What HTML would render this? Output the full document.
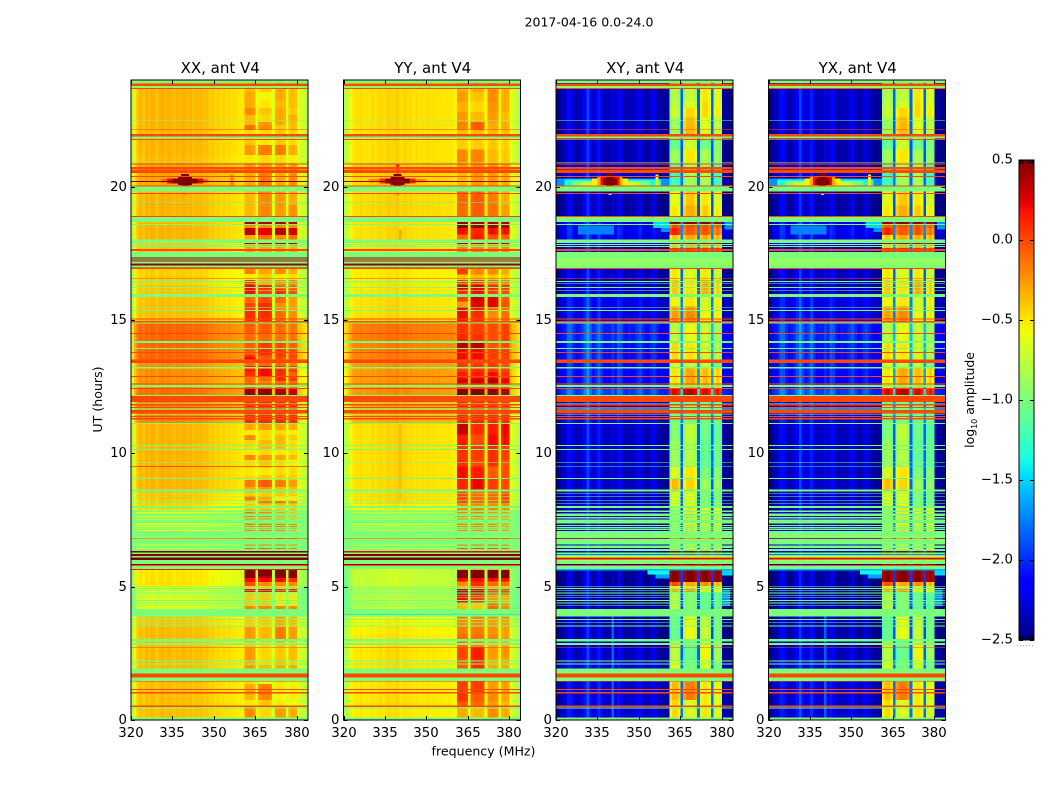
<!DOCTYPE html>
<html>
<head>
<meta charset="utf-8">
<title>2017-04-16 0.0-24.0</title>
<style>
html,body{margin:0;padding:0;background:#fff;width:1050px;height:800px;overflow:hidden}
svg{display:block}
text{font-family:"DejaVu Sans","Liberation Sans",sans-serif;fill:#000}
</style>
</head>
<body>
<svg id="fig" xmlns="http://www.w3.org/2000/svg" width="1050" height="800" viewBox="0 0 1050 800">
<rect x="0" y="0" width="1050" height="800" fill="#fff"/>
<text x="589" y="26.5" font-size="12.5" text-anchor="middle">2017-04-16 0.0-24.0</text>
<text x="0" y="0" font-size="12.6" text-anchor="middle" transform="translate(102,399.5) rotate(-90)">UT (hours)</text>
<text x="483.5" y="755.5" font-size="12.6" text-anchor="middle">frequency (MHz)</text>
<text x="0" y="0" font-size="12.4" text-anchor="middle" transform="translate(974,400) rotate(-90)">log<tspan font-size="8" dy="3">10</tspan><tspan dy="-3"> amplitude</tspan></text>
</svg>
<script>
// ---- axis ticks ----
const freqTicks = [320, 335, 350, 365, 380];
const utTicks = [0, 5, 10, 15, 20];
const colorbarTicks = [0.5, 0.0, -0.5, -1.0, -1.5, -2.0, -2.5];
const panelTitles = ["XX, ant V4", "YY, ant V4", "XY, ant V4", "YX, ant V4"];

// ---- spectral baseline, log10 amplitude per 1 MHz channel, 320..383 MHz ----
const profileXX = [-.75,-.54,-.38,-.34,-.39,-.32,-.37,-.32,-.35,-.39,-.33,-.31,-.36,-.32,-.34,-.38,-.33,-.36,-.32,-.34,-.37,-.34,-.38,-.35,-.37,-.35,-.4,-.37,-.42,-.4,-.45,-.42,-.46,-.44,-.47,-.45,-.48,-.47,-.5,-.5,-.52,
 0,0,0,-.04,-.62,-.04,0,0,0,-.04,-.62,-.02,0,0,-.04,-.62,-.03,0,-.03,-.64,-.66,-.72,-.76];
const profileYY = [-.8,-.72,-.6,-.52,-.48,-.5,-.47,-.52,-.48,-.5,-.46,-.5,-.47,-.44,-.48,-.45,-.43,-.46,-.44,-.42,-.5,-.46,-.44,-.48,-.46,-.5,-.47,-.5,-.48,-.5,-.47,-.5,-.48,-.5,-.49,-.5,-.51,-.5,-.5,-.52,-.54,
 0,0,0,-.04,-.56,-.03,0,0,0,-.04,-.56,-.02,0,0,-.04,-.56,-.03,0,-.03,-.6,-.68,-.74,-.8];
const profileCross = [-2.48,-2.42,-2.36,-2.3,-2.1,-2.12,-2.3,-2.38,-2.34,-2.26,-2.12,-1.92,-2.16,-2.32,-2.22,-2.05,-2.24,-2.36,-2.32,-2.34,-2.22,-2.32,-2.12,-2.18,-2.36,-2.4,-2.32,-2.36,-2.34,-2.24,-2.15,-2.3,-2.4,-2.38,-2.26,-2.2,-2.32,-2.42,-2.42,-2.44,-2.4,
 -.14,0,0,-.1,-1.85,-.12,0,0,0,-.12,-1.85,-.12,0,0,-.12,-1.85,-.12,0,-.14,-2.4,-2.44,-2.46,-2.48];

// ---- flagged integrations common to all four products: [UT top, UT bottom, value] ----
const flagRows = [
[24,23.89,-1],[23.87,23.78,0],[23.78,23.7,-.95],[23.7,23.66,0],[22.49,22.46,-1],[22.15,22.13,0],[21.98,21.88,0],[21.88,21.8,-1],[21.78,21.75,0],[20.91,20.89,-1],
[20.87,20.83,0],[20.74,20.64,0],[20.63,20.51,0],[20.4,20.36,0],[20.04,20.01,0],[20.01,19.82,-1],[19.76,19.73,0],[18.9,18.86,0],[18.86,18.68,-1],[18.6,18.58,-1],
[18.02,17.89,-1],[17.85,17.81,-1],[17.78,17.74,-1],[17.66,17.59,0],[17.55,16.95,-1],[16.95,16.91,0],[16.56,16.54,0],[16.46,16.44,-1],[16.39,16.36,-1],[16.24,16.2,-1],
[16.11,16.08,-1],[15.98,15.86,-1],[15.49,15.46,-1],[15.37,15.34,-1],[15.05,15.02,0],[14.96,14.91,0],[14.9,14.88,-1],[14.51,14.48,0],[14.21,14.14,-1],[13.95,13.91,-1],
[13.8,13.76,0],[13.52,13.39,0],[13.23,13.19,-1],[12.9,12.87,0],[12.62,12.59,0],[12.56,12.49,-1],[12.45,12.42,0],[12.18,12.16,-1],[12.15,11.93,0],[11.89,11.86,-1],
[11.85,11.79,0],[11.74,11.7,0],[11.68,11.66,-1],[11.63,11.49,0],[11.48,11.45,-1],[11.4,11.37,0],[11.33,11.27,0],[11.13,11.1,-1],[10.31,10.28,-1],[10.16,10.13,-1],
[9.66,9.64,-1],[9.07,9.05,-1],[8.64,8.57,-1],[8.5,8.48,-1],[8.39,8.36,-1],[8.24,8.22,-1],[8.14,8.11,-1],[8.03,7.95,-1],[7.86,7.8,-1],[7.74,7.65,-1],
[7.61,7.56,-1],[7.52,7.37,-1],[7.31,7.28,-1],[7.23,7.19,-1],[7.16,7.13,-1],[7.09,6.9,-1],[6.9,6.83,-.95],[6.83,6.8,0],[6.79,6.58,-1],[6.54,6.45,-1],
[6.41,6.34,-1],[6.29,6.23,-1],[6.15,6.09,-1],[6,5.85,-1],[5.81,5.79,0],[5.78,5.66,-1],[5.03,5,-1],[4.95,4.93,-1],[4.86,4.84,-1],[4.78,4.76,-1],
[4.69,4.67,-1],[4.6,4.58,-1],[4.5,4.48,-1],[4.4,4.38,-1],[4.3,4.28,-1],[4.16,4.14,-1],[4.13,3.88,-1],[3.78,3.76,-1],[3.66,3.64,-1],[3.54,3.52,-1],
[3.03,2.94,-1],[2.88,2.81,-1],[2.74,2.71,0],[2.23,2.21,-1],[2.11,2.09,-1],[1.94,1.75,-1],[1.75,1.59,0],[1.59,1.46,-1],[1.45,1.43,0],[1.16,1.14,0],
[1.05,.99,0],[.55,.49,0],[.47,.45,-1],[.1,0,-1]
];

// ---- extra rows specific to a product: [UT top, UT bottom, value] ----
const extraRowsXX = [[20.21,20.19,.5],[19.43,19.41,-1.15],[9.53,9.5,.3],[6.34,6.29,.5],[6.23,6.15,.5],[6.09,6,.5],[5.85,5.83,.45],[5.66,5.63,.15],[17.34,17.32,.45],[17.26,17.24,.4],[17.2,17.18,.3],[17.14,17.12,.3],[17.1,17.05,.45],[16.99,16.97,.2]];
const extraRowsYY = [[20.21,20.19,.4],[19.43,19.41,-1.15],[6.34,6.29,.2],[6.23,6.15,.5],[6.09,6,.5],[5.85,5.83,.45],[17.34,17.32,.4],[17.26,17.24,.35],[17.2,17.18,.25],[17.14,17.12,.3],[17.1,17.05,.45],[16.99,16.97,.2],[3.98,3.97,-1.5]];
const extraRowsCross = [[6.21,6.16,-1.4],[6.16,6.12,-.8],[6.12,6.07,-.25],[6.07,6.02,.25],[6.02,6,-.8],[5.66,5.6,-1.6],[17.33,17.31,-.82],[17.25,17.23,-.75],[17.16,17.14,-.7],[17.09,17.07,-.8],[9.53,9.5,-1.3]];

// ---- per-product time segments: [UT start of segment (top), low-band offset, block1, block2, block3, block4] ----
const segmentsXX = [
[24,0,-.35,-.42,-.3,-.35],[23.55,0,-.3,-.55,-.3,-.35],[23.25,0,-.3,-.5,-.35,-.35],[22.95,0,-.2,-.4,-.3,-.4],[22.69,0,-.35,-.45,-.3,-.3],[22.43,0,-.35,-.25,-.3,-.35],[22.31,0,-.12,-.2,-.4,-.35],[22.13,0,-.45,-.45,-.4,-.4],
[21.75,0,-.4,-.5,-.4,-.45],[21.56,0,-.25,-.15,-.15,-.3],[21.19,-.02,-.5,-.45,-.45,-.5],[20.89,.08,-.25,-.25,-.25,-.25],[20.51,.05,-.3,-.15,-.3,-.2],[19.82,0,-.35,-.2,-.25,-.3],[19.31,0,-.35,-.2,-.25,-.2],
[18.68,0,.45,.4,.4,.4],[18.56,0,-.2,-.2,-.2,-.2],[18.45,0,.35,.25,.35,.3],[18.19,0,-.3,-.1,-.2,-.1],[17.89,-.05,.4,.4,.4,.4],[17.85,-.05,-.3,-.3,-.3,-.3],[17.78,-.05,.4,.4,.4,.4],[17.74,-.05,-.3,-.3,-.3,-.3],
[16.91,-.08,-.15,-.3,-.2,-.3],[16.73,-.08,-.5,-.4,-.5,-.45],[16.5,-.08,.05,-.3,-.2,-.2],[16.31,-.05,.2,.1,-.1,-.1],[16.16,-.05,.2,.05,.1,0],[15.86,-.03,-.1,0,-.1,-.25],[15.64,-.03,.02,.1,-.2,-.25],[15.34,-.03,.1,.1,-.1,-.2],
[14.87,.25,-.05,-.05,-.1,-.12],[14.51,.25,-.1,-.1,-.12,-.12],[14.14,.25,-.05,.05,0,-.05],[13.91,.25,-.05,.1,.05,0],[13.69,.25,.1,0,.05,.05],[13.61,.25,.2,-.05,0,0],[13.39,.12,-.1,-.1,-.1,-.15],[13.28,.12,.15,.2,.1,.05],[13.05,.12,.1,.2,.1,-.05],[12.86,.12,-.1,-.1,.1,.05],[12.71,.12,-.1,-.2,-.1,-.1],[12.42,.22,.45,.45,.4,.35],
[12.15,.15,.1,.1,.1,.1],[11.1,0,-.3,-.25,-.3,-.3],[10.88,0,-.5,-.45,-.45,-.5],[10.69,0,-.2,-.45,-.35,-.4],[10.5,0,-.45,-.35,-.35,-.45],[10.13,0,-.5,-.45,-.5,-.45],[9.94,0,-.2,-.25,-.3,-.35],[9.75,0,-.45,-.4,-.45,-.5],[9.45,0,-.5,-.5,-.45,-.45],[9.19,0,-.45,-.4,-.4,-.4],[9,0,-.15,-.05,-.15,-.25],[8.74,0,-.3,-.25,-.35,-.35],[8.55,-.05,-.4,-.4,-.4,-.4],[8.4,-.05,-.15,-.3,-.5,-.5],[8.21,-.08,-.45,-.15,-.15,-.2],[8.1,-.1,-.4,-.4,-.4,-.4],
[7.88,-.25,-.15,-.2,-.3,-.35],[7.35,-.25,-.15,-.15,-.15,-.2],[7.13,-.25,-.2,-.2,-.2,-.3],[6.9,-.3,-.2,-.2,-.15,-.2],[6.56,-.3,-.1,-.1,-.1,-.15],[6,-.25,-.3,-.3,-.3,-.3],
[5.63,-.15,.5,.5,.5,.5],[5.4,-.15,.5,.35,.45,.45],[5.33,-.15,.2,.2,.2,.1],[5.18,-.15,0,-.2,-.2,-.2],[5.03,-.3,-.4,-.4,-.4,-.4],[4.91,-.3,.2,.2,.1,.1],[4.8,-.3,-.4,-.4,-.5,-.5],[4.28,-.3,-.2,-.2,-.2,-.2],
[3.88,-.05,-.4,-.4,-.3,-.35],[3.56,-.02,-.4,-.45,-.3,-.35],[3.49,-.02,-.25,-.35,-.15,-.25],[2.92,-.02,-.4,-.45,-.4,-.4],[2.7,-.02,-.25,-.45,-.4,-.35],[2.25,-.02,-.3,-.45,-.35,-.4],[2.06,-.02,-.25,-.35,-.3,-.3],[1.46,-.02,-.45,-.55,-.5,-.55],[1.35,-.03,-.3,-.15,-.5,-.5],[.94,-.03,-.35,-.2,-.55,-.5],[.75,-.03,-.5,-.4,-.5,-.55],[.49,-.03,-.2,-.45,-.25,-.3]
];
const segmentsYY = [
[24,0,-.3,-.3,-.2,-.3],[23.55,0,-.25,-.38,-.2,-.3],[23.2,0,-.32,-.45,-.22,-.3],[22.8,0,-.25,-.35,-.25,-.35],[22.43,0,-.18,-.05,-.3,-.3],[22.13,0,-.35,-.35,-.35,-.35],
[21.75,0,-.42,-.42,-.4,-.42],[21.4,0,-.2,-.18,-.35,-.4],[20.89,.07,-.25,-.2,-.2,-.25],[20.51,.04,-.35,-.25,-.25,-.3],[19.82,.02,-.08,-.05,-.15,-.3],[19.3,.02,-.1,-.05,-.12,-.25],
[18.68,0,.48,.42,.4,.4],[18.45,0,.2,.12,.2,.2],[18.2,0,-.1,.15,.0,-.05],[17.89,-.02,.4,.4,.4,.4],[17.82,-.02,-.25,-.25,-.25,-.25],[17.78,-.02,.4,.4,.4,.4],[17.74,-.02,-.2,-.2,-.2,-.2],
[16.91,-.04,.05,-.2,-.2,-.3],[16.7,-.04,-.4,-.35,-.4,-.4],[16.5,-.04,.05,.05,-.1,-.15],[16.31,-.02,.3,.25,.1,.05],[16.16,-.02,.1,.2,.05,0],[15.86,0,.05,.3,.25,-.05],[15.7,0,-.25,.25,.25,0],[15.49,0,.2,.15,-.1,-.1],[15.34,0,.2,.1,-.2,-.1],
[14.87,.32,.08,.05,0,.05],[14.51,.32,.12,.08,0,.05],[14.14,.3,.38,.35,-.02,.02],[13.95,.3,.2,.2,.05,.05],[13.39,.22,.05,.05,.05,0],[13.19,.22,.05,.1,.05,.05],[13.05,.22,.15,.15,.2,.1],[12.8,.22,.28,.3,.38,.25],[12.62,.2,0,0,0,0],[12.42,.24,.5,.5,.45,.4],
[12.15,.15,.1,.1,.1,.1],[11.1,0,.32,.1,.15,.22],[10.7,0,.15,.0,.2,.2],[10.31,0,.08,.05,.1,.05],[9.75,0,.1,.0,.1,0],[9.5,0,.2,.15,-.05,0],[9.07,0,.12,.22,.05,.02],[8.64,0,0,-.1,-.1,0],[8.1,-.05,-.2,-.2,-.2,-.2],
[7.88,-.25,-.2,-.2,-.25,-.25],[7.35,-.25,-.2,-.2,-.2,-.25],[6.9,-.25,-.2,-.15,-.1,-.2],[6.56,-.25,-.05,-.05,-.05,-.05],[6,-.25,-.3,-.3,-.3,-.3],
[5.63,-.25,.5,.5,.5,.5],[5.33,-.25,.2,.2,.2,.2],[5.2,-.25,-.2,.1,-.1,-.1],[5.03,-.3,-.35,-.1,-.35,-.35],[4.93,-.3,.35,.25,0,.05],[4.7,-.3,.2,.05,-.25,-.3],[4.4,-.32,-.35,-.4,-.1,-.2],[4.13,-.3,-.2,-.2,-.2,-.2],
[3.88,-.08,-.2,-.2,-.25,-.25],[3.54,-.05,-.15,-.15,-.22,-.25],[3.2,-.03,-.1,-.12,-.18,-.25],[2.94,-.03,-.1,-.18,-.3,-.3],[2.71,-.02,.02,.15,-.25,-.22],[2.3,-.02,-.05,.1,-.3,-.28],[1.43,-.02,.05,.05,-.25,-.25],[1,-.02,.08,-.05,-.2,-.28],[.7,-.02,-.05,-.1,-.25,-.35],[.49,-.04,-.3,-.35,-.2,-.3]
];
const segmentsCross = [
[24,0,-.8,-.75,-.5,-.6],[23.2,0,-.75,-.65,-.45,-.55],[22.95,0,-.7,-.45,-.45,-.5],[22.6,0,-.85,-.35,-.6,-.7],[21.75,-.03,-1.05,-.7,-1,-.9],[21.4,-.03,-.85,-.5,-.8,-.85],[20.89,.02,-1.1,-.8,-.85,-1.05],[20.5,.02,-1.2,-.85,-.8,-1.15],
[19.82,-.05,-.6,-.4,-.5,-.6],[19.3,-.05,-.5,-.32,-.4,-.5],[18.68,.12,.5,.5,.5,.5],[18.6,.12,0,0,0,0],[18.45,.15,.15,-.05,0,-.1],[18.19,.1,-.4,-.3,-.3,-.3],[17.89,.05,.4,.4,.4,.4],[17.82,.05,-.4,-.3,-.3,-.3],[17.7,.05,.1,.1,.1,.1],
[16.91,0,-.5,-.65,-.5,-.65],[16.5,0,-.4,-.5,-.3,-.4],[15.86,.1,-.55,-.5,-.65,-.5],[15.5,.1,-.25,-.2,-.55,-.5],[14.87,.3,-.75,-.6,-.7,-.8],[14.14,.25,-.45,-.5,-.65,-.75],[13.52,.22,-.65,-.75,-.7,-.95],[13.2,.22,-.5,-.3,-.35,-.4],[12.42,.4,.25,.35,.25,.2],[12.15,.1,-1,-1,-1,-1],
[11.1,0,-.95,-.75,-1,-1.05],[10.5,0,-.85,-.8,-1.05,-1],[9.5,0,-.65,-.5,-.95,-.9],[9.07,0,-.35,-.45,-.85,-.85],[8.55,0,-.65,-.65,-.95,-.95],[7.95,0,-.85,-.5,-.65,-.55],
[6.6,0,-.85,-.65,-.75,-.65],[6.34,0,.5,.5,.5,.5],[6,-.05,.5,.5,.5,.5],[5.6,-.1,.5,.5,.5,.5],[5.18,-.1,0,-.3,-.2,-.3],[5,-.1,-.5,-.5,-.6,-.6],[4.91,-.1,-.3,-.25,-.5,-.5],[4.8,-.1,-.75,-.95,-1.05,-1.05],
[3.88,-.05,-1.05,-.6,-.7,-.95],[2.94,0,-.75,-1.05,-.55,-.8],[2.23,.05,-.6,-1,-.6,-.95],[1.43,.05,-.35,-.15,-.5,-.55],[.75,.05,-.45,-.65,-.5,-.6]
];

// ---- localised features: [UT top, UT bottom, first channel, last channel, value] ----
const patchesXX = [[20.45,20.05,36,36,-.15],[20.28,20.16,11,27,-.1],[20.3,20.12,13,25,.2],[20.3,20.12,15,23,.5],[20.4,20.06,17,21,.5],[20.48,20.02,18,20,.5],[20.7,20.5,19,19,-.15],[19.75,19.68,19,19,-.15]];
const patchesYY = [[20.28,20.16,9,29,-.2],[20.3,20.12,13,25,.1],[20.3,20.12,15,23,.5],[20.4,20.06,17,21,.5],[20.48,20.02,18,20,.5],[20.85,20.5,19,19,.1],[19.75,19.68,19,19,-.15],[18.4,17.9,20,20,-.3],[11.1,8.2,20,20,-.36]];
const patchesCross = [[20.3,20.03,0,40,-1.7],[20.26,20.03,3,37,-1.35],[20.22,20.03,6,33,-1],[20.18,20.03,9,29,-.75],[20.3,20.03,13,25,-.55],[20.4,20.03,15,23,-.3],[20.4,20.06,16,22,.2],[20.3,20.06,17,21,.5],[20.48,20.03,18,20,.5],[20.46,20.03,36,36,-.6],[19.75,19.68,19,19,-1],
[18.55,18.2,8,20,-1.75],[18.68,18.45,35,40,-1.5],[18.45,18.3,38,40,-1.7],[18.68,18.4,61,63,-1.7],[5.66,5.45,33,40,-1.4],[5.45,5.3,36,40,-1.65],[5.66,5.42,60,63,-1.5],[4.9,4.3,60,62,-1.7],[3.88,.1,20,20,-1.85],[17.2,17,11,17,-1.3]];

const channelCount = 64;
const amplitudeMin = -2.5;
const amplitudeMax = 0.5;
const blockChannels = [[41,44],[46,50],[52,55],[57,59]];

const NS = 'http://www.w3.org/2000/svg';
const fig = document.getElementById('fig');
const panelLefts = [131, 343.5, 556, 768.5];
const panelWidth = 177, panelTop = 80, panelHeight = 640;

function interp(stops, t) {
  for (let i = 1; i < stops.length; i++) {
    if (t <= stops[i][0]) {
      const a = stops[i-1], b = stops[i];
      return a[1] + (b[1]-a[1]) * (t-a[0]) / (b[0]-a[0]);
    }
  }
  return stops[stops.length-1][1];
}
const jetR = [[0,0],[.35,0],[.66,1],[.89,1],[1,.5]];
const jetG = [[0,0],[.125,0],[.375,1],[.64,1],[.91,0],[1,0]];
const jetB = [[0,.5],[.11,1],[.34,1],[.65,0],[1,0]];
function jet(value) {
  const t = Math.max(0, Math.min(1, (value-amplitudeMin)/(amplitudeMax-amplitudeMin)));
  return 'rgb(' + Math.round(255*interp(jetR,t)) + ',' + Math.round(255*interp(jetG,t)) + ',' + Math.round(255*interp(jetB,t)) + ')';
}
function yScale(ut) { return panelTop + panelHeight * (1 - ut/24); }
function xScale(left, freq) { return left + panelWidth * (freq-320)/channelCount; }
function blockIndex(ch) {
  for (let i = 0; i < blockChannels.length; i++) {
    if (ch >= blockChannels[i][0] && ch <= blockChannels[i][1]) return i;
  }
  return -1;
}
function addRect(parent, x, y, w, h, fill) {
  const r = document.createElementNS(NS, 'rect');
  r.setAttribute('x', x.toFixed(2));
  r.setAttribute('y', y.toFixed(2));
  r.setAttribute('width', w.toFixed(2));
  r.setAttribute('height', h.toFixed(2));
  r.setAttribute('fill', fill);
  parent.appendChild(r);
  return r;
}
function addLine(parent, x1, y1, x2, y2, name) {
  const l = document.createElementNS(NS, 'line');
  l.setAttribute('x1', x1);
  l.setAttribute('y1', y1);
  l.setAttribute('x2', x2);
  l.setAttribute('y2', y2);
  l.setAttribute('stroke', '#000');
  l.setAttribute('stroke-width', '1');
  
  
  parent.appendChild(l);
}
function addText(parent, x, y, str, anchor, name) {
  const t = document.createElementNS(NS, 'text');
  t.setAttribute('x', x);
  t.setAttribute('y', y);
  t.setAttribute('font-size', '13.3');
  t.setAttribute('text-anchor', anchor);
  
  
  t.textContent = str;
  parent.appendChild(t);
}

function drawPanel(index, profile, segments, extraRows, patches) {
  const left = panelLefts[index];
  const g = document.createElementNS(NS, 'g');
  
  
  fig.appendChild(g);

  const cells = document.createElementNS(NS, 'g');
  cells.setAttribute('shape-rendering', 'crispEdges');
  
  
  g.appendChild(cells);

  const cw = panelWidth / channelCount;
  segments.forEach(function (seg, i) {
    const utTop = seg[0];
    const utBottom = i + 1 < segments.length ? segments[i+1][0] : 0;
    if (utBottom >= utTop) return;
    const y0 = yScale(utTop), y1 = yScale(utBottom);
    for (let ch = 0; ch < channelCount; ch++) {
      const b = blockIndex(ch);
      const v = b >= 0 ? seg[2+b] + profile[ch] : profile[ch] + seg[1];
      const cell = addRect(cells, xScale(left, 320+ch), y0, cw + 0.3, y1 - y0 + 0.3, jet(v));
      
      
    }
  });
  patches.forEach(function (p) {
    const x0 = xScale(left, 320+p[2]), x1 = xScale(left, 320+p[3]+1);
    const patch = addRect(cells, x0, yScale(p[0]), x1-x0, yScale(p[1])-yScale(p[0]), jet(p[4]));
    
    
  });
  flagRows.concat(extraRows).forEach(function (f) {
    const row = addRect(cells, left, yScale(f[0]), panelWidth, Math.max(0.8, yScale(f[1])-yScale(f[0])), jet(f[2]));
    
    
  });

  const frame = document.createElementNS(NS, 'rect');
  frame.setAttribute('x', left);
  frame.setAttribute('y', panelTop);
  frame.setAttribute('width', panelWidth);
  frame.setAttribute('height', panelHeight);
  frame.setAttribute('fill', 'none');
  frame.setAttribute('stroke', '#000');
  frame.setAttribute('stroke-width', '1');
  
  
  g.appendChild(frame);

  freqTicks.forEach(function (f) {
    const x = Math.round(xScale(left, f)) + 0.5;
    addLine(g, x, panelTop + panelHeight, x, panelTop + panelHeight - 4, 'x-tick');
    addLine(g, x, panelTop, x, panelTop + 4, 'x-tick-top');
    addText(g, x - 0.5, panelTop + panelHeight + 17, String(f), 'middle', 'x-tick-label');
  });
  utTicks.forEach(function (u) {
    const y = Math.round(yScale(u)) + 0.5;
    addLine(g, left, y, left + 4, y, 'y-tick');
    addLine(g, left + panelWidth, y, left + panelWidth - 4, y, 'y-tick-right');
    addText(g, left - 4, y + 3.5, String(u), 'end', 'y-tick-label');
  });
  const title = document.createElementNS(NS, 'text');
  title.setAttribute('x', left + panelWidth/2 + 0.7);
  title.setAttribute('y', 73);
  title.setAttribute('font-size', '15');
  title.setAttribute('text-anchor', 'middle');
  
  
  title.textContent = panelTitles[index];
  g.appendChild(title);
}

drawPanel(0, profileXX, segmentsXX, extraRowsXX, patchesXX);
drawPanel(1, profileYY, segmentsYY, extraRowsYY, patchesYY);
drawPanel(2, profileCross, segmentsCross, extraRowsCross, patchesCross);
drawPanel(3, profileCross, segmentsCross, extraRowsCross, patchesCross);

// colorbar
(function () {
  const cbX = 1019, cbW = 15, cbTop = 160, cbH = 480;
  const g = document.createElementNS(NS, 'g');
  
  
  fig.appendChild(g);
  const strip = document.createElementNS(NS, 'g');
  strip.setAttribute('shape-rendering', 'crispEdges');
  
  
  g.appendChild(strip);
  const cbY = function (v) { return cbTop + cbH * (amplitudeMax - v) / (amplitudeMax - amplitudeMin); };
  const steps = 240;
  for (let i = 0; i < steps; i++) {
    const v = amplitudeMax - (i + 0.5) * (amplitudeMax - amplitudeMin) / steps;
    addRect(strip, cbX, cbTop + i*cbH/steps, cbW, cbH/steps + 0.3, jet(v));
  }
  const frame = document.createElementNS(NS, 'rect');
  frame.setAttribute('x', cbX);
  frame.setAttribute('y', cbTop);
  frame.setAttribute('width', cbW);
  frame.setAttribute('height', cbH);
  frame.setAttribute('fill', 'none');
  frame.setAttribute('stroke', '#000');
  frame.setAttribute('stroke-width', '1');
  
  
  g.appendChild(frame);
  colorbarTicks.forEach(function (v) {
    const y = Math.round(cbY(v)) + 0.5;
    addLine(g, cbX, y, cbX + 4, y, 'colorbar-tick');
    addLine(g, cbX + cbW, y, cbX + cbW - 4, y, 'colorbar-tick-right');
    addText(g, 1013, y + 3, (v < 0 ? '\u2212' : '') + Math.abs(v).toFixed(1), 'end', 'colorbar-tick-label');
  });
  for (let k = 0; k < 6; k++) {
    const tx = cbX + 1.5 + k * 2.5;
    addLine(g, tx, cbTop, tx, cbTop + 4, 'colorbar-top-mark');
    addLine(g, tx, cbTop + cbH, tx, cbTop + cbH - 4, 'colorbar-bottom-mark');
    const dot = addRect(g, cbX - 2 + k * 3, 645, 1, 1, '#aaa');
    
    
  }
})();
</script>
</body>
</html>
